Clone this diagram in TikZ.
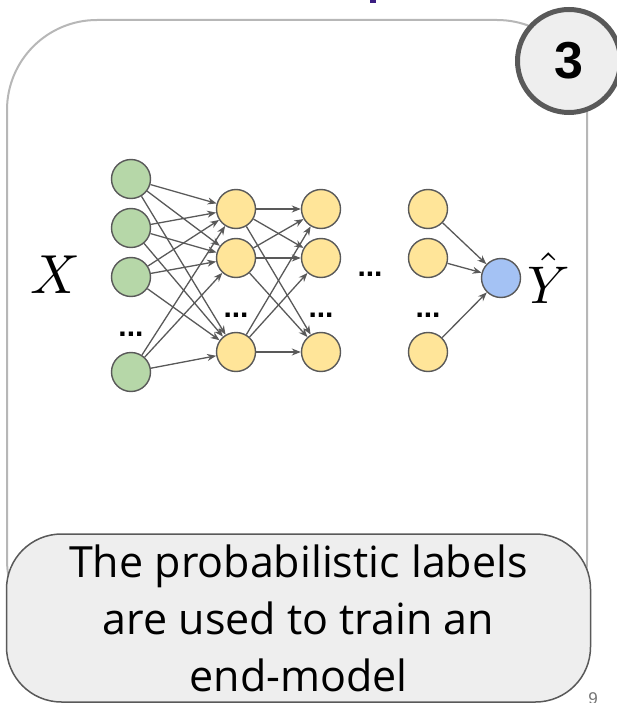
\documentclass[tikz,border=0pt]{standalone}
\usepackage{fontspec}
\setmainfont{Open Sans}[Ligatures=NoCommon]
\newfontfamily\arialfont{Liberation Sans}
\usetikzlibrary{arrows.meta,positioning}
\definecolor{framegray}{RGB}{183,183,183}
\definecolor{inkgray}{RGB}{89,89,89}
\definecolor{notefill}{RGB}{238,238,238}
\definecolor{ingreen}{RGB}{182,215,168}
\definecolor{hidyellow}{RGB}{255,229,153}
\definecolor{outblue}{RGB}{164,194,244}
\definecolor{titlepurple}{RGB}{59,30,130}
\definecolor{pagegray}{RGB}{117,117,117}

\begin{document}
\begin{tikzpicture}[x=1pt,y=-1pt,
      neuron/.style={circle,draw=inkgray,line width=1.4pt,minimum size=39pt,inner sep=0pt},
      inp/.style={neuron,fill=ingreen},
      hid/.style={neuron,fill=hidyellow},
      outp/.style={neuron,fill=outblue},
      link/.style={-{Stealth[length=9pt,width=7pt]},line width=1.3pt,draw=inkgray},
      dots/.style={font=\arialfont\bfseries\fontsize{30}{30}\selectfont,inner sep=0pt,anchor=base},
      badge/.style={circle,draw=inkgray,line width=5pt,fill=notefill,minimum size=103pt,inner sep=0pt,font=\arialfont\bfseries\fontsize{52}{52}\selectfont},
      note/.style={draw=inkgray,line width=1.5pt,fill=notefill,rounded corners=55pt,minimum width=584pt,minimum height=168pt,align=center,font=\fontsize{43}{57}\selectfont}]
      \useasboundingbox (0,0) rectangle (616,703);
      \fill[titlepurple] (370,0) rectangle (376,3);
      \draw[framegray,line width=2pt,rounded corners=90pt] (7,20) rectangle (587,650);
      \node[badge] (step3) at (569,61) {3};
      % input layer
      \node[inp] (in1) at (131,179) {};
      \node[inp] (in2) at (131,228) {};
      \node[inp] (in3) at (131,277) {};
      \node[inp] (in4) at (131,372) {};
      \node[dots] (indots) at (131,336) {...};
      % hidden layers
      \node[hid] (ha1) at (236,209) {};
      \node[hid] (ha2) at (236,258) {};
      \node[hid] (ha3) at (236,352) {};
      \node[hid] (hb1) at (321,209) {};
      \node[hid] (hb2) at (321,258) {};
      \node[hid] (hb3) at (321,352) {};
      \node[hid] (hc1) at (428,209) {};
      \node[hid] (hc2) at (428,258) {};
      \node[hid] (hc3) at (428,352) {};
      \node[dots] (hadots) at (236,317) {...};
      \node[dots] (hbdots) at (321,317) {...};
      \node[dots] (hcdots) at (428,317) {...};
      \node[dots] (middots) at (370,276) {...};
      % output
      \node[outp] (out) at (501,278) {};
      \node[anchor=base,scale=5.5] (xin) at (55,293) {$X$};
      \node[anchor=base,scale=5.3] (yhat) at (549,303) {$\hat{Y}$};
      \foreach \a in {1,...,4} \foreach \b in {1,2,3} \draw[link] (in\a) -- (ha\b);
      \foreach \a in {1,2,3} \foreach \b in {1,2,3} \draw[link] (ha\a) -- (hb\b);
      \foreach \a in {1,2,3} \draw[link] (hc\a) -- (out);
      \node[note] (caption) at (298.5,618) {The probabilistic labels\\are used to train an\\end-model};
      \node[pagegray,anchor=base,font=\arialfont\fontsize{17}{17}\selectfont] (pageno) at (593,704) {9};
    \end{tikzpicture}
\end{document}
